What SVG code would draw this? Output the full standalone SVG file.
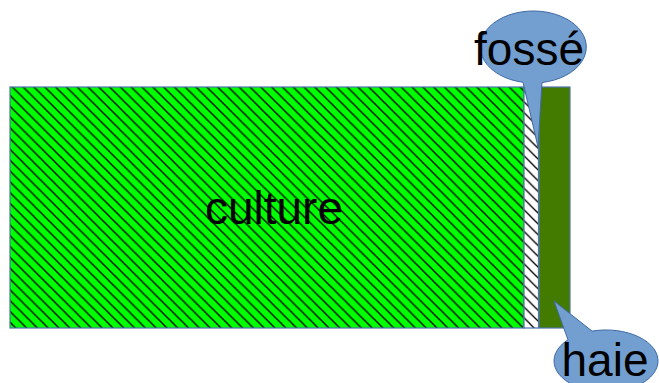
<svg xmlns="http://www.w3.org/2000/svg" width="659" height="383" viewBox="0 0 659 383">
  <style>
    .zone { stroke: #4f74ad; stroke-width: 1.2; }
    .callout { fill: #729fcf; stroke: #3f6aa6; stroke-width: 1; }
    .label { font-family: "Liberation Sans", Arial, sans-serif; font-size: 46px; fill: #000; text-anchor: middle; }
    .hatch-line { stroke: #000; stroke-width: 1.3; }
  </style>
  <defs>
    <!-- diagonal hatching, lines running top-left to bottom-right -->
    <pattern id="hatch" patternUnits="userSpaceOnUse" x="1" y="0" width="10.8" height="10.8">
      <line class="hatch-line" x1="0" y1="0" x2="10.8" y2="10.8"/>
      <line class="hatch-line" x1="-2" y1="8.8" x2="2" y2="12.8"/>
      <line class="hatch-line" x1="8.8" y1="-2" x2="12.8" y2="2"/>
    </pattern>
  </defs>

  <rect width="659" height="383" fill="#fff"/>

  <g id="culture">
    <rect x="10" y="87" width="514" height="241" fill="#00ff00"/>
    <rect class="zone" x="10" y="87" width="514" height="241" fill="url(#hatch)"/>
    <text class="label" x="274" y="224">culture</text>
  </g>

  <g id="fosse-strip">
    <rect x="524" y="87" width="14.5" height="241" fill="#fff"/>
    <rect class="zone" x="524" y="87" width="14.5" height="241" fill="url(#hatch)"/>
  </g>

  <g id="haie-strip">
    <rect class="zone" x="539" y="87" width="31" height="241" fill="#437a00"/>
  </g>

  <g id="fosse">
    <path class="callout" d="M 523,82.3 A 53 36 0 1 1 542,82.5 L 538,147 Z"/>
    <text class="label" x="529" y="65">fossé</text>
  </g>

  <g id="haie">
    <path class="callout" d="M 592,331.1 A 52 31 0 1 1 568,339.8 L 554,301 Z"/>
    <text class="label" x="605" y="376">haie</text>
  </g>
</svg>
